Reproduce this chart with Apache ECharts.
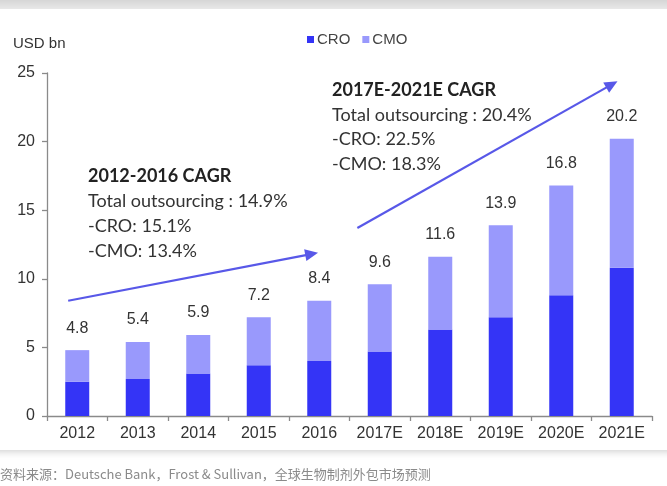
<!DOCTYPE html>
<html><head><meta charset="utf-8">
<script src="https://cdn.jsdelivr.net/npm/echarts@6/dist/echarts.min.js"></script>
<style>html,body{margin:0;padding:0;background:#fff}#c{width:667px;height:486px}</style>
</head><body><div id="c"></div>
<script>
var categories = ['2012','2013','2014','2015','2016','2017E','2018E','2019E','2020E','2021E'];
var croValues = [2.5, 2.7, 3.1, 3.7, 4.0, 4.7, 6.3, 7.2, 8.8, 10.8];
var cmoValues = [2.3, 2.7, 2.8, 3.5, 4.4, 4.9, 5.3, 6.7, 8.0, 9.4];
var totalLabels = [4.8, 5.4, 5.9, 7.2, 8.4, 9.6, 11.6, 13.9, 16.8, 20.2];
var yTicks = [0, 5, 10, 15, 20, 25];
// growth arrows in data units: [categoryIndex, value]
var arrow1 = [[-0.15, 8.4], [3.98, 11.9]];
var arrow2 = [[4.63, 13.7], [8.93, 24.4]];
var block1 = ['2012-2016 CAGR', 'Total outsourcing : 14.9%', '-CRO: 15.1%', '-CMO: 13.4%'];
var block2 = ['2017E-2021E CAGR', 'Total outsourcing : 20.4%', '-CRO: 22.5%', '-CMO: 18.3%'];
var footer = '资料来源：Deutsche Bank，Frost & Sullivan，全球生物制剂外包市场预测';

var chart = echarts.init(document.getElementById('c'), null, {renderer: 'canvas'});
var F = 'Liberation Sans, Arial, sans-serif';
var AF = 'Lato, Carlito, Calibri, sans-serif';
var axisCol = '#8a8a8a';
chart.setOption({
  animation: false,
  backgroundColor: '#ffffff',
  grid: {left: 47, right: 15, top: 73, bottom: 70},
  legend: {
    data: ['CRO', 'CMO'], left: 302, top: 27, itemWidth: 7, itemHeight: 7, itemGap: 12,
    icon: 'rect', textStyle: {fontFamily: F, fontSize: 15, color: '#444', padding: [0, 0, 0, -2]}
  },
  xAxis: {
    type: 'category', data: categories,
    axisLine: {lineStyle: {color: axisCol, width: 1.3}},
    axisTick: {show: true, length: 5, lineStyle: {color: axisCol, width: 1.3}},
    axisLabel: {fontFamily: F, fontSize: 16, color: '#333', margin: 10}
  },
  yAxis: {
    type: 'value', min: yTicks[0], max: yTicks[yTicks.length - 1], interval: 5,
    name: 'USD bn', nameLocation: 'end', nameGap: 22,
    nameTextStyle: {fontFamily: F, fontSize: 15, color: '#333', align: 'left', padding: [0, 0, 0, -34]},
    axisLine: {show: true, lineStyle: {color: axisCol, width: 1.3}},
    axisTick: {show: true, length: 5, lineStyle: {color: axisCol, width: 1.3}},
    splitLine: {show: false},
    axisLabel: {fontFamily: F, fontSize: 16, color: '#333', margin: 12}
  },
  series: [
    {name: 'CRO', type: 'bar', stack: 'total', data: croValues, barWidth: 24,
     itemStyle: {color: '#3434f6'}},
    {name: 'CMO', type: 'bar', stack: 'total', data: cmoValues, barWidth: 24,
     itemStyle: {color: '#9999fc'},
     label: {show: true, position: 'top', distance: 14, fontFamily: F, fontSize: 16, color: '#333',
       formatter: function (p) { return totalLabels[p.dataIndex].toFixed(1); }}}
  ]
});

function toPx(pt) {
  var a = chart.convertToPixel({xAxisIndex: 0, yAxisIndex: 0}, [0, pt[1]]);
  var b = chart.convertToPixel({xAxisIndex: 0, yAxisIndex: 0}, [1, pt[1]]);
  return [a[0] + pt[0] * (b[0] - a[0]), a[1]];
}
function arrow(seg, color) {
  var s = toPx(seg[0]), t = toPx(seg[1]);
  var dx = t[0] - s[0], dy = t[1] - s[1], L = Math.sqrt(dx * dx + dy * dy);
  var ux = dx / L, uy = dy / L, hl = 13, hw = 6;
  var bx = t[0] - ux * hl, by = t[1] - uy * hl;
  return [
    {type: 'line', shape: {x1: s[0], y1: s[1], x2: bx + ux * 2, y2: by + uy * 2},
     style: {stroke: color, lineWidth: 2.2}, z: 50},
    {type: 'polygon', shape: {points: [[t[0], t[1]], [bx - uy * hw, by + ux * hw], [bx + uy * hw, by - ux * hw]]},
     style: {fill: color}, z: 50}
  ];
}
function block(lines, x, y0, gap) {
  return lines.map(function (txt, i) {
    return {type: 'text', x: x, y: y0 + i * gap, z: 60,
      style: {text: txt, fill: i === 0 ? '#222' : '#333', font: (i === 0 ? 'bold ' : '') + '18px ' + AF,
        textVerticalAlign: 'middle', textAlign: 'left'}};
  });
}
var arrowCol = '#5858e8';
var g = [
  {type: 'rect', shape: {x: -10, y: 8, width: 687, height: 442}, style: {fill: '#fff', shadowBlur: 8, shadowColor: 'rgba(0,0,0,0.22)', shadowOffsetY: 1}, z: -10, silent: true},
  {type: 'rect', shape: {x: 0, y: 0, width: 667, height: 9},
   style: {fill: new echarts.graphic.LinearGradient(0, 0, 0, 1, [{offset: 0, color: '#d6d6d6'}, {offset: 1, color: '#e8e8e8'}])}, z: -5},
  {type: 'text', x: 0, y: 474, style: {text: footer, fill: '#8a8a8a', font: '13px "Noto Sans CJK SC", sans-serif', textVerticalAlign: 'middle'}}
];
g = g.concat(arrow(arrow1, arrowCol), arrow(arrow2, arrowCol), block(block1, 88, 176, 25), block(block2, 332, 90, 24.7));
chart.setOption({graphic: g});
</script></body></html>
